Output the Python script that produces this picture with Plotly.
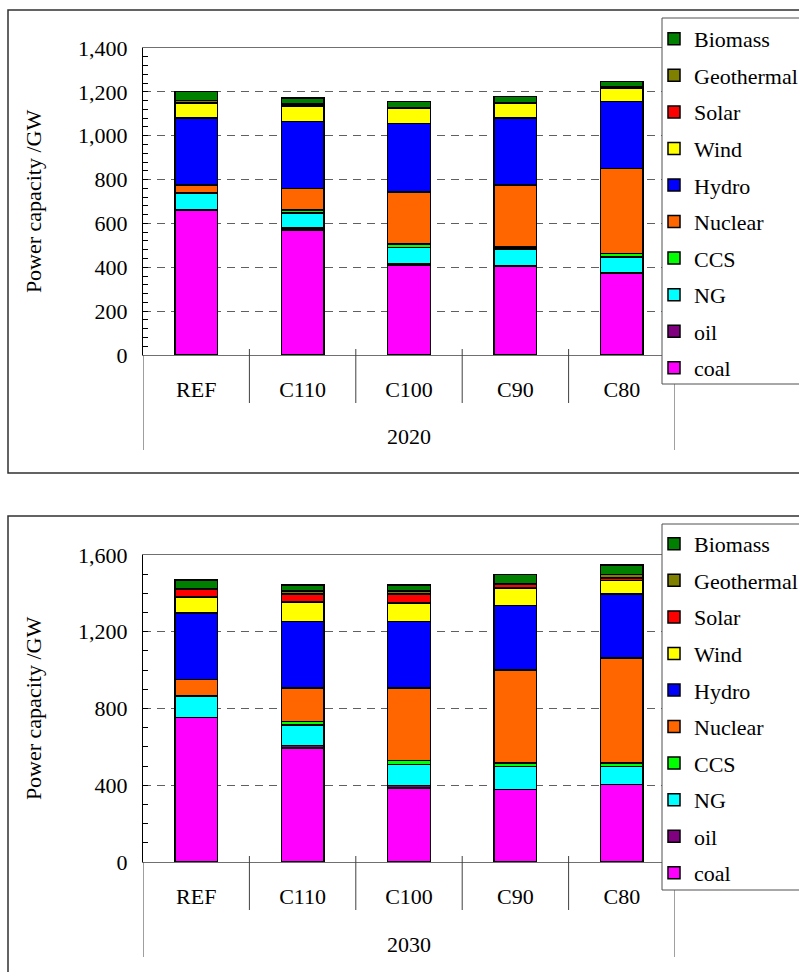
import plotly.graph_objects as go
from plotly.subplots import make_subplots

# Scenarios and power capacity (GW) by source, 2020 and 2030
scenarios = ["REF", "C110", "C100", "C90", "C80"]
sources = ["coal", "oil", "NG", "CCS", "Nuclear", "Hydro", "Wind", "Solar", "Geothermal", "Biomass"]
colors = {
    "coal": "#FF00FF", "oil": "#800080", "NG": "#00FFFF", "CCS": "#00FF00",
    "Nuclear": "#FF6600", "Hydro": "#0000FF", "Wind": "#FFFF00", "Solar": "#FF0000",
    "Geothermal": "#808000", "Biomass": "#008000",
}

coal_2020 = [662, 571, 411, 403, 373]
oil_2020 = [0, 8, 7, 3, 0]
ng_2020 = [76, 68, 73, 78, 73]
ccs_2020 = [0, 15, 15, 8, 18]
nuclear_2020 = [38, 97, 237, 283, 387]
hydro_2020 = [304, 305, 312, 305, 304]
wind_2020 = [66, 70, 68, 66, 61]
solar_2020 = [6, 5, 3, 2, 3]
geothermal_2020 = [8, 7, 3, 2, 3]
biomass_2020 = [42, 26, 28, 29, 26]

coal_2030 = [752, 593, 386, 377, 403]
oil_2030 = [0, 14, 12, 0, 0]
ng_2030 = [113, 107, 109, 121, 95]
ccs_2030 = [0, 18, 21, 18, 18]
nuclear_2030 = [86, 176, 378, 484, 546]
hydro_2030 = [346, 346, 348, 337, 336]
wind_2030 = [83, 100, 95, 90, 69]
solar_2030 = [41, 44, 49, 21, 14]
geothermal_2030 = [3, 14, 14, 3, 17]
biomass_2030 = [46, 32, 32, 47, 50]

data_2020 = [coal_2020, oil_2020, ng_2020, ccs_2020, nuclear_2020,
             hydro_2020, wind_2020, solar_2020, geothermal_2020, biomass_2020]
data_2030 = [coal_2030, oil_2030, ng_2030, ccs_2030, nuclear_2030,
             hydro_2030, wind_2030, solar_2030, geothermal_2030, biomass_2030]

W, H = 799, 972
FONT = "Liberation Serif"
FS = 22


def px_x(v):
    return v / W


def px_y(v):
    return 1 - v / H


fig = make_subplots(rows=2, cols=1)

for row, (year, values, legend_name) in enumerate(
        [("2020", data_2020, "legend"), ("2030", data_2030, "legend2")], start=1):
    for idx, (name, vals) in enumerate(zip(sources, values)):
        fig.add_trace(
            go.Bar(
                x=scenarios, y=vals, name=name, width=0.4,
                marker=dict(color=colors[name], line=dict(color="black", width=1.5)),
                legend=legend_name, legendgroup=f"{year}-{name}",
                legendrank=100 - idx,  # top of the stack listed first
            ),
            row=row, col=1,
        )

# Panel geometry in pixels
panels = [
    dict(frame_top=10, top=48, bottom=355, frame_bottom=473, ymax=1400, dtick=200, minor=40, year="2020"),
    dict(frame_top=516, top=555, bottom=862, frame_bottom=990, ymax=1600, dtick=400, minor=100, year="2030"),
]
plot_left, plot_right = 143, 675

axis_font = dict(family=FONT, size=FS, color="black")
shapes = []
annotations = []

for i, p in enumerate(panels, start=1):
    xa = "xaxis" if i == 1 else f"xaxis{i}"
    ya = "yaxis" if i == 1 else f"yaxis{i}"
    fig.layout[xa].update(
        domain=[px_x(plot_left), px_x(plot_right)],
        type="category", categoryarray=scenarios, range=[-0.5, 4.5],
        showline=True, linecolor="#707070", linewidth=1, mirror=True,
        ticks="", tickfont=axis_font, ticklabelstandoff=15,
        showgrid=False, automargin=False,
    )
    fig.layout[ya].update(
        domain=[px_y(p["bottom"]), px_y(p["top"])],
        range=[0, p["ymax"]], dtick=p["dtick"], tickformat=",d",
        ticks="inside", ticklen=5, tickcolor="black",
        minor=dict(dtick=p["minor"], ticks="inside", ticklen=5, tickcolor="black", showgrid=False),
        showline=True, linecolor="black", linewidth=1,
        showgrid=True, gridcolor="#606060", gridwidth=1, griddash="8px,6px",
        zeroline=False, tickfont=axis_font, ticklabelstandoff=10,
        title=dict(text="Power capacity /GW", font=axis_font, standoff=30),
        automargin=False,
    )

    xref = "x" if i == 1 else f"x{i}"
    # outer frame of each chart
    shapes.append(dict(type="rect", xref="paper", yref="paper",
                       x0=px_x(8), x1=px_x(820), y0=px_y(p["frame_bottom"]), y1=px_y(p["frame_top"]),
                       line=dict(color="#303030", width=1.5), fillcolor="rgba(0,0,0,0)", layer="below"))
    # category separators below the axis
    for k in range(len(scenarios) + 1):
        outer = k in (0, len(scenarios))
        shapes.append(dict(type="line", xref=xref, yref="paper",
                           x0=k - 0.5, x1=k - 0.5,
                           y0=px_y(p["bottom"] - (0 if outer else 6)),
                           y1=px_y(p["bottom"] + (95 if outer else 48)),
                           line=dict(color="#404040", width=1)))
    annotations.append(dict(text=p["year"], xref=xref, yref="paper",
                            x=2, y=px_y(p["bottom"] + 82), showarrow=False,
                            font=axis_font, xanchor="center", yanchor="middle"))
    # legend panel box
    shapes.append(dict(type="rect", xref="paper", yref="paper",
                       x0=px_x(662), x1=px_x(830),
                       y0=px_y(p["frame_top"] + 374), y1=px_y(p["frame_top"] + 8),
                       line=dict(color="#505050", width=1), fillcolor="white", layer="above"))

legend_common = dict(
    font=dict(family=FONT, size=FS, color="black"),
    bgcolor="rgba(0,0,0,0)", borderwidth=0,
    traceorder="grouped", tracegroupgap=4.95,
    xanchor="left", yanchor="top", itemclick=False, itemdoubleclick=False,
)

fig.update_layout(
    width=W, height=H,
    margin=dict(l=0, r=0, t=0, b=0, autoexpand=False),
    paper_bgcolor="white", plot_bgcolor="white",
    barmode="stack",
    font=dict(family=FONT, size=FS, color="black"),
    showlegend=True,
    legend=dict(x=px_x(654), y=px_y(18), **legend_common),
    legend2=dict(x=px_x(654), y=px_y(523), **legend_common),
    shapes=shapes,
    annotations=annotations,
)

fig.write_html("out.html")
